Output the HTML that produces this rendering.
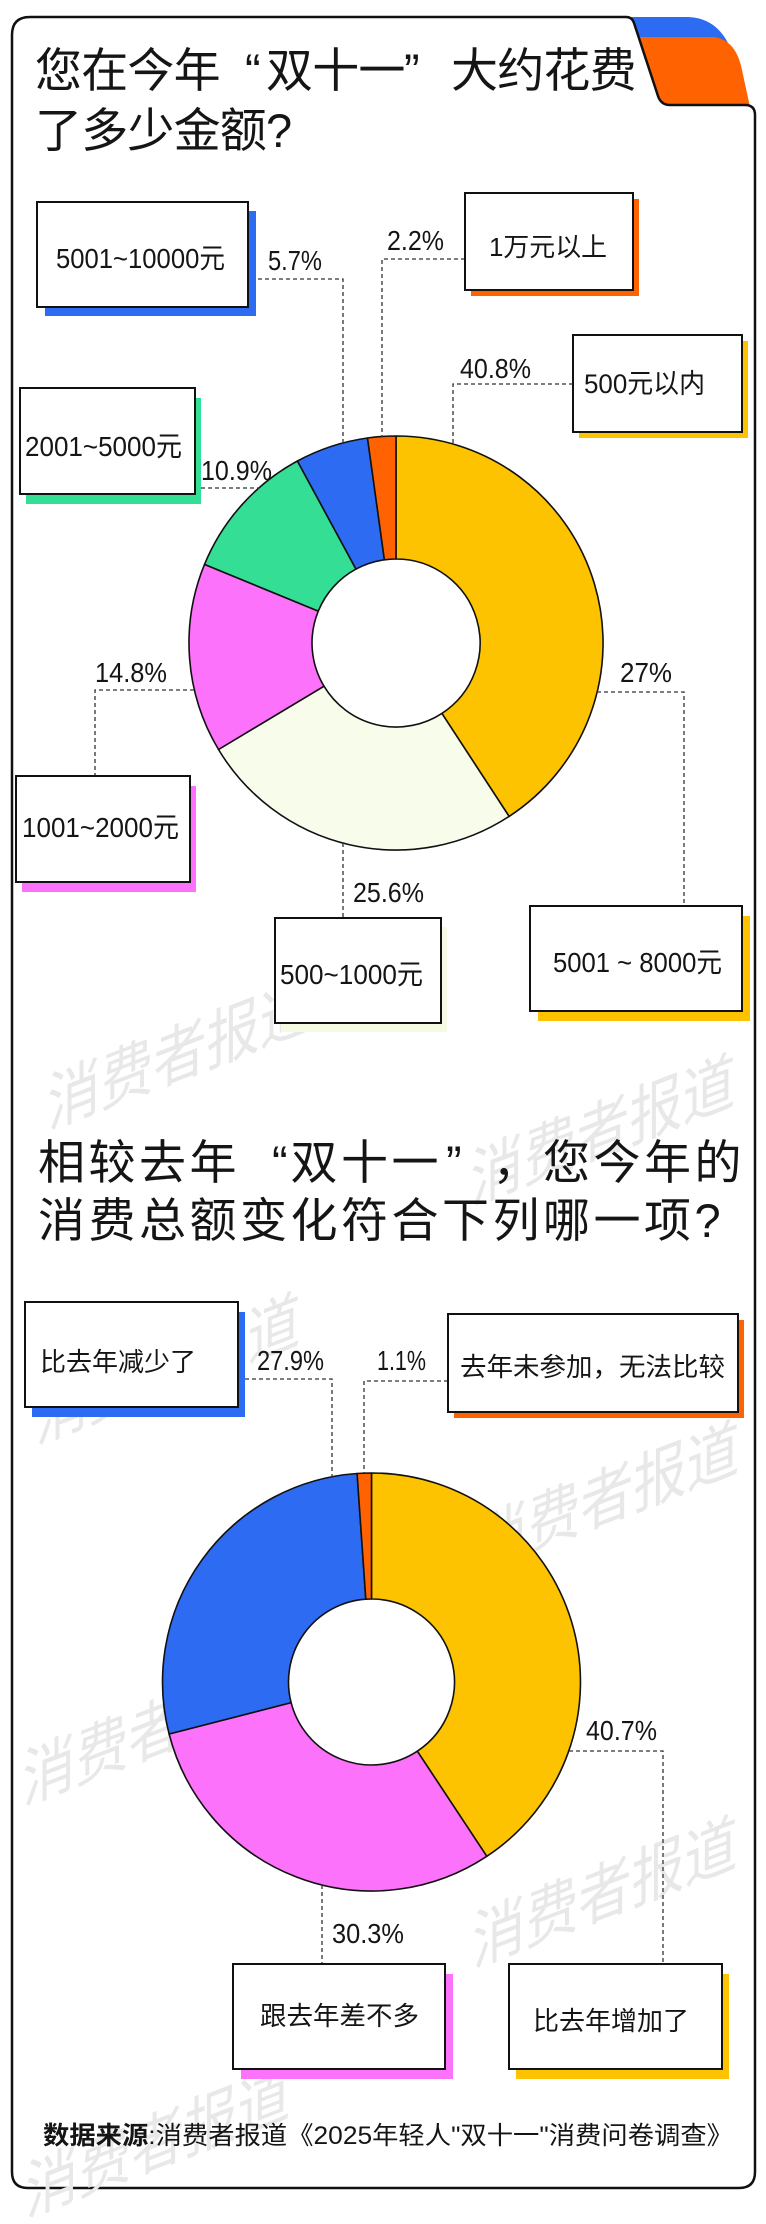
<!DOCTYPE html>
<html><head><meta charset="utf-8">
<style>
html,body{margin:0;padding:0;background:#fff;}
svg{display:block;}
text{font-family:"Liberation Sans","Noto Sans CJK SC",sans-serif;fill:#151515;}
.wm{fill:#e8e8e8;font-family:"Liberation Sans","Noto Sans CJK SC",sans-serif;}
</style></head>
<body>
<svg width="766" height="2224" viewBox="0 0 766 2224" xmlns="http://www.w3.org/2000/svg">
<rect width="766" height="2224" fill="#fff"/>
<!-- tab -->
<path d="M620 17 L688 17 Q716 18 729 45 L734 70 L630 70 Z" fill="#2D6BF2"/>
<path d="M628 37 L714 37 Q736 40 742 70 L750 107 L640 107 Z" fill="#FF6200"/>
<!-- card -->
<path d="M12 35 Q12 17 30 17 L626 17 Q632 17 634 23 L658 96 Q661 105 670 105 L745 105 Q755 105 755 115 L755 2172 Q755 2188 739 2188 L28 2188 Q12 2188 12 2172 Z" fill="#fff" stroke="#111" stroke-width="2.5"/>

<!-- watermarks -->
<g font-size="52">
<text class="wm" transform="translate(180,1052) skewY(-21) scale(1,1.25)" text-anchor="middle" y="20" textLength="265" lengthAdjust="spacingAndGlyphs">消费者报道</text>
<text class="wm" transform="translate(603,1128) skewY(-21) scale(1,1.25)" text-anchor="middle" y="20" textLength="265" lengthAdjust="spacingAndGlyphs">消费者报道</text>
<text class="wm" transform="translate(168,1367) skewY(-21) scale(1,1.25)" text-anchor="middle" y="20" textLength="265" lengthAdjust="spacingAndGlyphs">消费者报道</text>
<text class="wm" transform="translate(607,1495) skewY(-21) scale(1,1.25)" text-anchor="middle" y="20" textLength="265" lengthAdjust="spacingAndGlyphs">消费者报道</text>
<text class="wm" transform="translate(155,1728) skewY(-21) scale(1,1.25)" text-anchor="middle" y="20" textLength="265" lengthAdjust="spacingAndGlyphs">消费者报道</text>
<text class="wm" transform="translate(605,1890) skewY(-21) scale(1,1.25)" text-anchor="middle" y="20" textLength="265" lengthAdjust="spacingAndGlyphs">消费者报道</text>
<text class="wm" transform="translate(158,2140) skewY(-21) scale(1,1.25)" text-anchor="middle" y="20" textLength="265" lengthAdjust="spacingAndGlyphs">消费者报道</text>
</g>

<!-- titles -->
<text font-size="47" y="87" x="35 81.2 127.4 173.6 245 266 312.2 358.4 404 451 497.2 543.4 589.6">您在今年“双十一”大约花费</text>
<text font-size="47" y="147" x="35 81.2 127.4 173.6 219.8 266">了多少金额?</text>
<text font-size="47" y="1179" x="38 88.5 139 189.5 272 290.5 341 391.5 446 492.5 543 593.5 644 694.5">相较去年“双十一”，您今年的</text>
<text font-size="47" y="1237" x="38 88.5 139 189.5 240 290.5 341 391.5 442 492.5 543 593.5 644 694.5">消费总额变化符合下列哪一项?</text>

<!-- pie 1 -->
<g stroke="#111" stroke-width="1.6" stroke-linejoin="round">
<path d="M396 436 A207 207 0 0 1 509.1 816.4 L441.9 713.4 A84 84 0 0 0 396 559 Z" fill="#FDC300"/>
<path d="M509.1 816.4 A207 207 0 0 1 218.5 749.5 L324 686.2 A84 84 0 0 0 441.9 713.4 Z" fill="#F8FDEB"/>
<path d="M218.5 749.5 A207 207 0 0 1 204.5 564.4 L318.3 611.1 A84 84 0 0 0 324 686.2 Z" fill="#FC72FA"/>
<path d="M204.5 564.4 A207 207 0 0 1 297.4 461 L356 569.1 A84 84 0 0 0 318.3 611.1 Z" fill="#34DE94"/>
<path d="M297.4 461 A207 207 0 0 1 367.5 438 L384.4 559.8 A84 84 0 0 0 356 569.1 Z" fill="#2D6BF2"/>
<path d="M367.5 438 A207 207 0 0 1 396 436 L396 559 A84 84 0 0 0 384.4 559.8 Z" fill="#FF6200"/>
</g>
<!-- pie 2 -->
<g stroke="#111" stroke-width="1.6" stroke-linejoin="round">
<path d="M371.5 1473 A209 209 0 0 1 486.8 1856.3 L417.3 1751.2 A83 83 0 0 0 371.5 1599 Z" fill="#FDC300"/>
<path d="M486.8 1856.3 A209 209 0 0 1 169.1 1734 L291.1 1702.6 A83 83 0 0 0 417.3 1751.2 Z" fill="#FC72FA"/>
<path d="M169.1 1734 A209 209 0 0 1 357.1 1473.5 L365.8 1599.2 A83 83 0 0 0 291.1 1702.6 Z" fill="#2D6BF2"/>
<path d="M357.1 1473.5 A209 209 0 0 1 371.5 1473 L371.5 1599 A83 83 0 0 0 365.8 1599.2 Z" fill="#FF6200"/>
</g>

<!-- dashed leaders -->
<g fill="none" stroke="#333" stroke-width="1.3" stroke-dasharray="4 3">
<path d="M258 279 H343 V443"/>
<path d="M465 259 H382 V437"/>
<path d="M573 384 H453 V444"/>
<path d="M201 488 H259"/>
<path d="M194 690 H95 V776"/>
<path d="M597 692 H684 V906"/>
<path d="M343 843 V918"/>
<path d="M245 1379 H332 V1477"/>
<path d="M448 1381 H364 V1473"/>
<path d="M569 1751 H663 V1964"/>
<path d="M322 1885 V1964"/>
</g>

<!-- boxes: shadows -->
<rect x="45" y="211" width="211" height="105" fill="#2D6BF2"/>
<rect x="471" y="199" width="168" height="97" fill="#FF6200"/>
<rect x="579" y="341" width="169" height="97" fill="#FDC300"/>
<rect x="26" y="398" width="175" height="106" fill="#34DE94"/>
<rect x="22" y="786" width="174" height="106" fill="#FC72FA"/>
<rect x="281" y="927" width="166" height="105" fill="#F4FAE3"/>
<rect x="538" y="916" width="212" height="105" fill="#FDC300"/>
<rect x="32" y="1312" width="213" height="105" fill="#2D6BF2"/>
<rect x="454" y="1320" width="290" height="98" fill="#FF6200"/>
<rect x="241" y="1974" width="212" height="105" fill="#FC72FA"/>
<rect x="516" y="1974" width="213" height="105" fill="#FDC300"/>
<!-- boxes -->
<g fill="#fff" stroke="#111" stroke-width="2">
<rect x="37" y="202" width="211" height="105"/>
<rect x="465" y="193" width="168" height="97"/>
<rect x="573" y="335" width="169" height="97"/>
<rect x="20" y="388" width="175" height="106"/>
<rect x="16" y="776" width="174" height="106"/>
<rect x="275" y="918" width="166" height="105"/>
<rect x="530" y="906" width="212" height="105"/>
<rect x="25" y="1302" width="213" height="105"/>
<rect x="448" y="1314" width="290" height="98"/>
<rect x="233" y="1964" width="212" height="105"/>
<rect x="509" y="1964" width="213" height="105"/>
</g>

<!-- box labels -->
<g>
<text x="56" y="268" font-size="28" textLength="169" lengthAdjust="spacingAndGlyphs">5001~10000元</text>
<text x="489" y="256" font-size="26" textLength="118" lengthAdjust="spacingAndGlyphs">1万元以上</text>
<text x="584" y="393" font-size="27" textLength="121" lengthAdjust="spacingAndGlyphs">500元以内</text>
<text x="25" y="456" font-size="28" textLength="157" lengthAdjust="spacingAndGlyphs">2001~5000元</text>
<text x="22" y="837" font-size="28" textLength="157" lengthAdjust="spacingAndGlyphs">1001~2000元</text>
<text x="280" y="984" font-size="28" textLength="143" lengthAdjust="spacingAndGlyphs">500~1000元</text>
<text x="553" y="972" font-size="28" textLength="169" lengthAdjust="spacingAndGlyphs">5001 ~ 8000元</text>
<text x="40" y="1371" font-size="26" textLength="156" lengthAdjust="spacingAndGlyphs">比去年减少了</text>
<text x="460" y="1376" font-size="26" textLength="265" lengthAdjust="spacingAndGlyphs">去年未参加，无法比较</text>
<text x="260" y="2025" font-size="26" textLength="159" lengthAdjust="spacingAndGlyphs">跟去年差不多</text>
<text x="533" y="2030" font-size="26" textLength="156" lengthAdjust="spacingAndGlyphs">比去年增加了</text>
</g>

<!-- percent labels -->
<g font-size="28">
<text x="268" y="270" textLength="54" lengthAdjust="spacingAndGlyphs">5.7%</text>
<text x="387" y="250" textLength="57" lengthAdjust="spacingAndGlyphs">2.2%</text>
<text x="460" y="378" textLength="71" lengthAdjust="spacingAndGlyphs">40.8%</text>
<text x="201" y="480" textLength="71" lengthAdjust="spacingAndGlyphs">10.9%</text>
<text x="95" y="682" textLength="72" lengthAdjust="spacingAndGlyphs">14.8%</text>
<text x="620" y="682" textLength="52" lengthAdjust="spacingAndGlyphs">27%</text>
<text x="353" y="902" textLength="71" lengthAdjust="spacingAndGlyphs">25.6%</text>
<text x="257" y="1370" textLength="67" lengthAdjust="spacingAndGlyphs">27.9%</text>
<text x="377" y="1370" textLength="49" lengthAdjust="spacingAndGlyphs">1.1%</text>
<text x="586" y="1740" textLength="71" lengthAdjust="spacingAndGlyphs">40.7%</text>
<text x="332" y="1943" textLength="72" lengthAdjust="spacingAndGlyphs">30.3%</text>
</g>

<!-- source -->
<text x="43" y="2144" font-size="25" textLength="690" lengthAdjust="spacingAndGlyphs"><tspan font-weight="bold">数据来源</tspan>:消费者报道《2025年轻人"双十一"消费问卷调查》</text>
</svg>
</body></html>
